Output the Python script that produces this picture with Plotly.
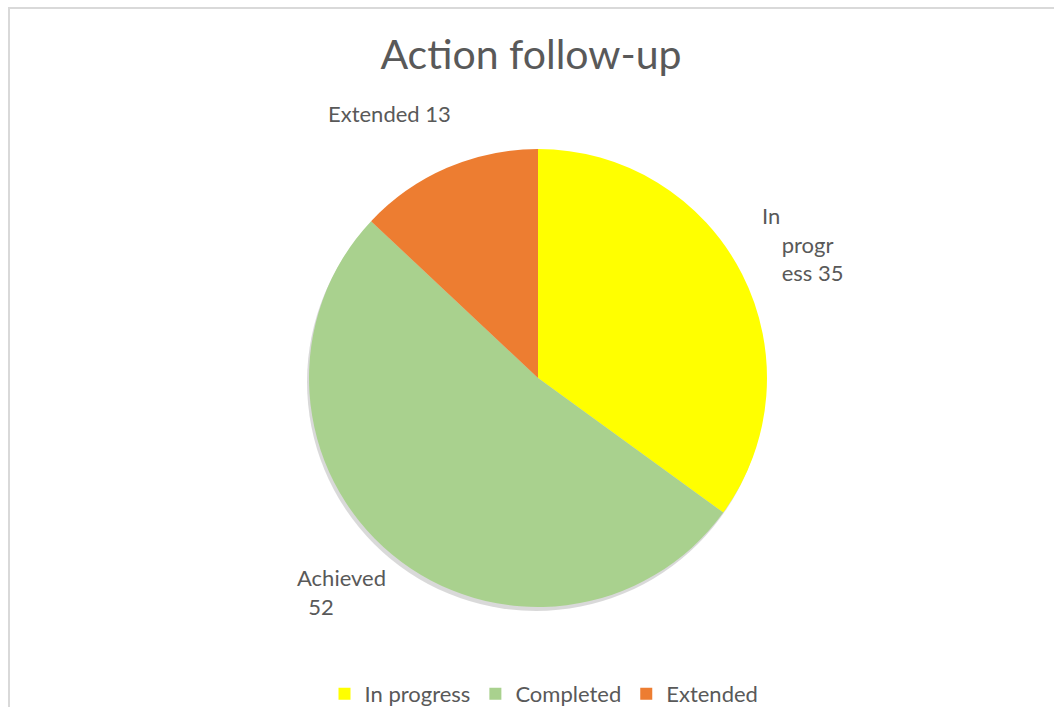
import plotly.graph_objects as go

# Data
categories = ["In progress", "Completed", "Extended"]
values = [35, 52, 13]
slice_labels = ["In<br>   &#8201;progr<br>   &#8201;ess", "Achieved<br>  ", "Extended"]
colors = ["#FFFF00", "#A9D18E", "#ED7D31"]

W, H = 1054, 707
cx, cy, r = 538, 378, 229

fig = go.Figure()

# soft shadow behind the pie
fig.add_trace(go.Pie(
    values=[sum(values)], labels=["shadow"], showlegend=False,
    marker=dict(colors=["rgba(0,0,0,0.15)"], line=dict(width=0)),
    textinfo="none", hoverinfo="skip", sort=False,
    domain=dict(x=[(cx - r - 2) / W, (cx + r - 2) / W],
                y=[1 - (cy + r + 4) / H, 1 - (cy - r + 4) / H]),
))

fig.add_trace(go.Pie(
    labels=categories, values=values, sort=False, direction="clockwise",
    rotation=0,
    marker=dict(colors=colors, line=dict(color="white", width=0)),
    textinfo="none", hoverinfo="label+value",
    domain=dict(x=[(cx - r) / W, (cx + r) / W],
                y=[1 - (cy + r) / H, 1 - (cy - r) / H]),
))

font_family = "Lato, Open Sans, sans-serif"
txt_color = "#595959"

# data labels (text from data arrays)
label_pos = [(760, 200), (295, 562), (326, 98)]
annotations = []
for (x, y), lab, v in zip(label_pos, slice_labels, values):
    sep = "" if lab.endswith(" ") else " "
    annotations.append(dict(
        x=x / W, y=1 - y / H, xref="paper", yref="paper",
        xanchor="left", yanchor="top", align="left", showarrow=False,
        text=lab + sep + str(v),
        font=dict(family=font_family, size=22, color=txt_color),
    ))

fig.update_layout(
    width=W, height=H,
    margin=dict(l=0, r=0, t=0, b=0, autoexpand=False),
    paper_bgcolor="white", plot_bgcolor="white",
    title=dict(text="Action follow-up", x=531 / W, xanchor="center",
               y=1 - 55 / H, yanchor="middle",
               font=dict(family=font_family, size=41, color=txt_color)),
    legend=dict(orientation="h", x=544 / W, xanchor="center",
                xref="container", yref="container",
                y=1 - 694 / H, yanchor="middle",
                font=dict(family=font_family, size=22, color=txt_color),
                itemwidth=30, tracegroupgap=0),
    annotations=annotations,
    shapes=[
        dict(type="line", xref="paper", yref="paper",
             x0=9 / W, x1=9 / W, y0=0, y1=1 - 7.5 / H,
             line=dict(color="#D9D9D9", width=2)),
        dict(type="line", xref="paper", yref="paper",
             x0=8 / W, x1=1, y0=1 - 8 / H, y1=1 - 8 / H,
             line=dict(color="#D9D9D9", width=2)),
    ],
)

fig.write_html("out.html", config={"displayModeBar": False},
               post_script="document.body.style.margin='0px';")
